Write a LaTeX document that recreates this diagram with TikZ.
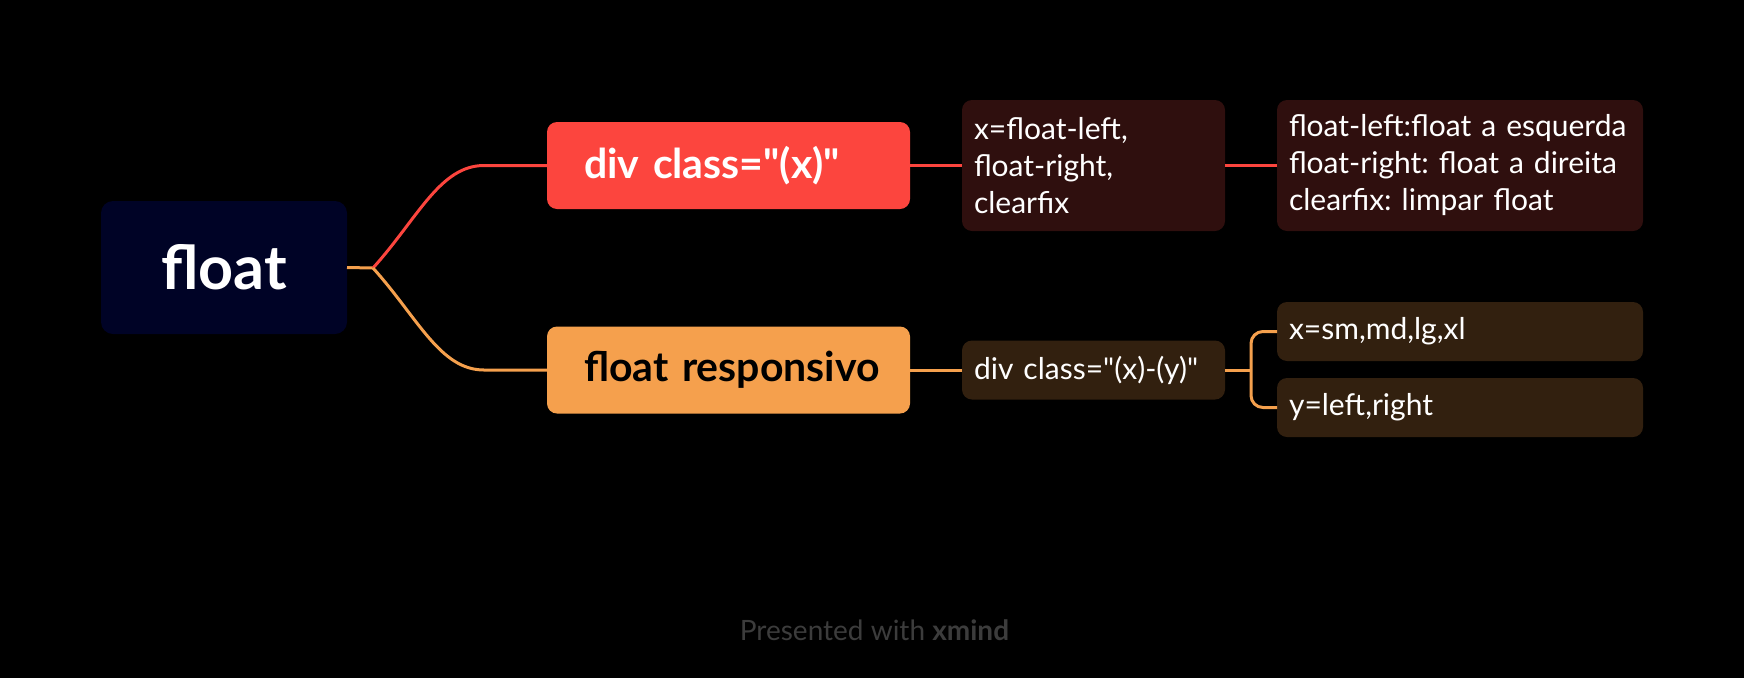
\documentclass[tikz,border=0pt]{standalone}
\usepackage{fontspec}
\setmainfont{Lato}[Ligatures=TeXOff]
\usetikzlibrary{positioning}
\frenchspacing

\definecolor{rootblue}{HTML}{000326}
\definecolor{mapred}{HTML}{FC453E}
\definecolor{maporange}{HTML}{F5A04D}
\definecolor{darkred}{HTML}{2F0F0E}
\definecolor{darkorange}{HTML}{32200F}
\definecolor{footgray}{HTML}{3C3C3C}

\begin{document}
\begin{tikzpicture}[x=1pt, y=-1pt, line width=3pt]

\tikzstyle{topic} = [shape=rectangle, outer sep=0pt, rounded corners=10pt, minimum height=87pt, text width=289pt, inner xsep=37pt, align=left, font=\fontsize{41}{46}\selectfont\bfseries]
\tikzstyle{sub} = [shape=rectangle, outer sep=0pt, rounded corners=10pt, inner xsep=12pt, align=left, font=\fontsize{30}{37}\selectfont, text=white]

% background and frame
\fill[black] (0,0) rectangle (1744,678);
\useasboundingbox (0,0) rectangle (1744,678);

%Creating Blocks
\node [fill=rootblue, outer sep=0pt, rounded corners=12pt, minimum width=246pt, minimum height=133pt, text=white, font=\fontsize{61}{64}\selectfont\bfseries] at (224,267.5) (root) {float};
\coordinate (fork) at (373,268);
\node [topic, fill=mapred, text=white] at (728.5,165.5) (css) {\mbox{div class="(x)"}};
\node [topic, fill=maporange, text=black] at (728.5,370) (resp) {\mbox{float responsivo}};
\node [sub, fill=darkred, text width=239pt, minimum height=131pt, right=52pt of css] (vals) {x=float-left,\\float-right,\\clearfix};
\node [sub, fill=darkred, text width=342pt, minimum height=131pt, anchor=west] at (1277,165.5) (desc) {float-left:float a esquerda\\float-right: float a direita\\clearfix: limpar float};
\node [sub, fill=darkorange, text width=239pt, minimum height=59pt, right=52pt of resp] (cls) {\mbox{div class="(x)-(y)"}};
\coordinate (brace) at (1251,370);
\node [sub, fill=darkorange, text width=342pt, minimum height=59pt, anchor=west] at (1277,331.5) (sizes) {x=sm,md,lg,xl};
\node [sub, fill=darkorange, text width=342pt, minimum height=59pt, anchor=west] at (1277,407.5) (sides) {y=left,right};

%Connecting Blocks
\draw[maporange] (root.east) -- (fork);
\draw[mapred] (fork) .. controls +(45,-50) and (440,165.5) .. (484,165.5) -- (css.west);
\draw[maporange] (fork) .. controls +(45,50) and (440,370) .. (484,370) -- (resp.west);
\draw[mapred] (css.east) -- (vals.west);
\draw[mapred] (vals.east) -- (desc.west);
\draw[maporange] (resp.east) -- (cls.west);
\draw[maporange] (cls.east) -- (brace);
\draw[maporange, rounded corners=12pt] (sizes.west) -| (brace) |- (sides.west);

\node[text=footgray, font=\fontsize{28}{32}\selectfont] at (874.5,630) (footer) {Presented with \textbf{xmind}};
\end{tikzpicture}
\end{document}
